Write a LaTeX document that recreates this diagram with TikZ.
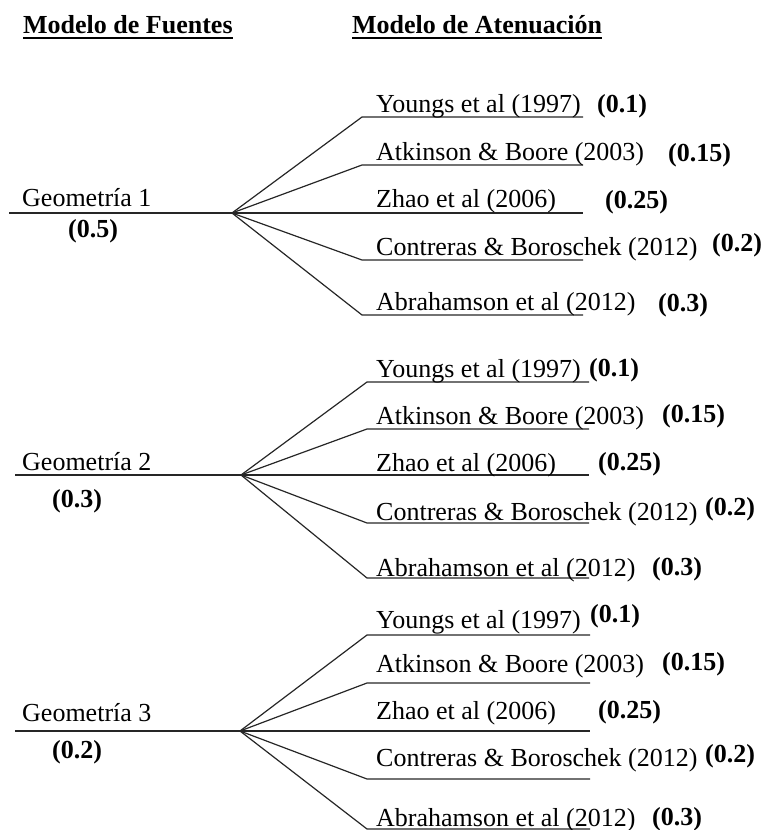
\documentclass[tikz,border=0pt]{standalone}
\usepackage{fontspec}
\setmainfont{Liberation Serif}
\usetikzlibrary{positioning}

\begin{document}
\begin{tikzpicture}[x=1pt,y=-1pt,
  txt/.style={anchor=base west,inner sep=0pt,font=\fontsize{26}{30}\selectfont},
  wgt/.style={txt,font=\fontsize{26}{30}\selectfont\bfseries},
  hdr/.style={txt,font=\fontsize{26}{30}\selectfont\bfseries},
  ln/.style={line width=1.2pt,black!85},
  ul/.style={line width=2pt}]
\useasboundingbox (0,0) rectangle (765,830);
% headers
\node[hdr] (hf) at (23,33) {Modelo de Fuentes};
\node[hdr] (ha) at (352,33) {Modelo de Atenuación};
\draw[ul] ([yshift=-5pt]hf.base west) -- ([yshift=-5pt]hf.base east);
\draw[ul] ([yshift=-5pt]ha.base west) -- ([yshift=-5pt]ha.base east);
% source models
\coordinate (r1) at (9,213);  \coordinate (g1) at (232,213);
\coordinate (r2) at (15,475); \coordinate (g2) at (241,475);
\coordinate (r3) at (15,731); \coordinate (g3) at (240,731);
\node[txt] (geo1) at (22,206) {Geometría 1};
\node[wgt] (pg1) at (68,237) {(0.5)};
\node[txt] (geo2) at (22,470) {Geometría 2};
\node[wgt] (pg2) at (52,507) {(0.3)};
\node[txt] (geo3) at (22,721) {Geometría 3};
\node[wgt] (pg3) at (52,758) {(0.2)};
\draw[ln] (r1) -- (g1);
\draw[ln] (r2) -- (g2);
\draw[ln] (r3) -- (g3);
% attenuation branches: line y / text base / weight x / weight base / model / weight
\foreach \i/\ly/\ty/\wx/\wy/\mdl/\w in {
  1/117/112/597/112/Youngs et al (1997)/0.1,
  2/165/160/668/161/Atkinson \& Boore (2003)/0.15,
  3/213/207/605/208/Zhao et al (2006)/0.25,
  4/260/255/712/251/Contreras \& Boroschek (2012)/0.2,
  5/315/310/658/311/Abrahamson et al (2012)/0.3}{
  \coordinate (a1-\i) at (362,\ly); \coordinate (z1-\i) at (583,\ly);
  \draw[ln] (g1) -- (a1-\i) -- (z1-\i);
  \node[txt] (m1-\i) at (376,\ty) {\mdl};
  \node[wgt] (p1-\i) at (\wx,\wy) {(\w)};
}
\foreach \i/\ly/\ty/\wx/\wy/\mdl/\w in {
  1/382/377/589/376/Youngs et al (1997)/0.1,
  2/429/424/662/422/Atkinson \& Boore (2003)/0.15,
  3/475/471/598/470/Zhao et al (2006)/0.25,
  4/523/520/705/515/Contreras \& Boroschek (2012)/0.2,
  5/578/576/652/575/Abrahamson et al (2012)/0.3}{
  \coordinate (a2-\i) at (367,\ly); \coordinate (z2-\i) at (589,\ly);
  \draw[ln] (g2) -- (a2-\i) -- (z2-\i);
  \node[txt] (m2-\i) at (376,\ty) {\mdl};
  \node[wgt] (p2-\i) at (\wx,\wy) {(\w)};
}
\foreach \i/\ly/\ty/\wx/\wy/\mdl/\w in {
  1/635/628/590/622/Youngs et al (1997)/0.1,
  2/683/672/662/670/Atkinson \& Boore (2003)/0.15,
  3/731/719/598/718/Zhao et al (2006)/0.25,
  4/779/766/705/762/Contreras \& Boroschek (2012)/0.2,
  5/829/826/652/825/Abrahamson et al (2012)/0.3}{
  \coordinate (a3-\i) at (367,\ly); \coordinate (z3-\i) at (590,\ly);
  \draw[ln] (g3) -- (a3-\i) -- (z3-\i);
  \node[txt] (m3-\i) at (376,\ty) {\mdl};
  \node[wgt] (p3-\i) at (\wx,\wy) {(\w)};
}
\end{tikzpicture}
\end{document}
